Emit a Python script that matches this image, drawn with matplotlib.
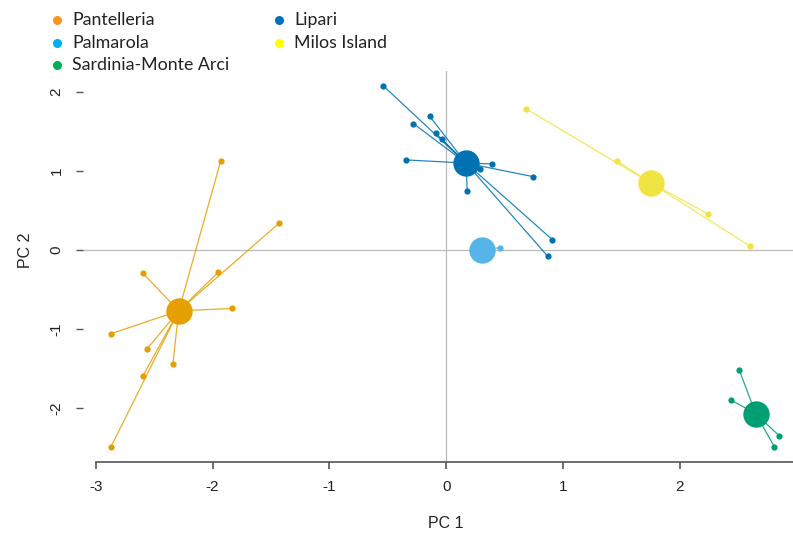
import matplotlib
matplotlib.use('Agg')
import matplotlib.pyplot as plt
from matplotlib.lines import Line2D

plt.rcParams['axes.unicode_minus'] = False

# centroids and samples of each source
groups = ['Pantelleria', 'Palmarola', 'Sardinia-Monte Arci', 'Lipari', 'Milos Island']

pant_center = (-2.29, -0.77)
pant_x = [-1.93, -1.43, -2.60, -1.95, -1.83, -2.87, -2.56, -2.34, -2.60, -2.87]
pant_y = [1.13, 0.34, -0.29, -0.28, -0.74, -1.06, -1.25, -1.44, -1.60, -2.49]

palm_center = (0.31, 0.00)
palm_x = [0.46]
palm_y = [0.03]

sard_center = (2.65, -2.07)
sard_x = [2.51, 2.44, 2.85, 2.81]
sard_y = [-1.52, -1.90, -2.35, -2.49]

lip_center = (0.17, 1.10)
lip_x = [-0.54, -0.14, -0.28, -0.09, -0.04, -0.34, 0.39, 0.29, 0.74, 0.18, 0.91, 0.87]
lip_y = [2.08, 1.69, 1.60, 1.48, 1.40, 1.14, 1.09, 1.03, 0.93, 0.75, 0.13, -0.08]

milos_center = (1.75, 0.85)
milos_x = [0.68, 1.46, 2.24, 2.60]
milos_y = [1.79, 1.13, 0.46, 0.05]

plot_colors = ['#E69F00', '#56B4E9', '#009E73', '#0072B2', '#F0E442']
legend_colors = ['#F7941D', '#00B0F0', '#00B050', '#0070C0', '#FFFF00']

data = [
    (pant_center, pant_x, pant_y),
    (palm_center, palm_x, palm_y),
    (sard_center, sard_x, sard_y),
    (lip_center, lip_x, lip_y),
    (milos_center, milos_x, milos_y),
]

W, H = 793, 534
fig = plt.figure(figsize=(W / 100, H / 100), dpi=100)
ax = fig.add_axes([83 / W, 72 / H, (800 - 83) / W, (462 - 71) / H])
ax.set_xlim(-3.11, 3.03)
ax.set_ylim(-2.684, 2.266)

ax.axhline(0, color='#bbbbbb', lw=0.9, zorder=0)
ax.axvline(0, color='#bbbbbb', lw=0.9, zorder=0)

for (c, xs, ys), col in zip(data, plot_colors):
    for x, y in zip(xs, ys):
        ax.plot([c[0], x], [c[1], y], color=col, lw=0.9, alpha=0.85, zorder=1)
    ax.plot(xs, ys, 'o', color=col, ms=4.5, mec='none', zorder=2)
    ax.plot([c[0]], [c[1]], 'o', color=col, ms=19, mec='none', zorder=3)

for s in ['top', 'right', 'left']:
    ax.spines[s].set_visible(False)
ax.spines['bottom'].set_bounds(-3, 3)
ax.spines['bottom'].set_color('#555555')
ax.spines['bottom'].set_linewidth(1.2)

ax.set_xticks([-3, -2, -1, 0, 1, 2, 3])
ax.set_yticks([-2, -1, 0, 1, 2])
ax.tick_params(axis='x', length=5, width=1.2, color='#555555', pad=8,
               labelsize=11, labelcolor='#222222')
ax.tick_params(axis='y', length=5, width=1.0, color='#555555', pad=9,
               labelsize=11, labelcolor='#222222', labelrotation=90)
for lab in ax.get_yticklabels():
    lab.set_va('center')
for lab in ax.get_xticklabels() + ax.get_yticklabels():
    lab.set_family('Liberation Sans')

fig.text(446 / W, 1 - 523 / H, 'PC 1', ha='center', va='center',
         fontsize=11.5, family='Liberation Sans', color='#222222')
fig.text(25 / W, 1 - 250 / H, 'PC 2', ha='center', va='center', rotation=90,
         fontsize=11.5, family='Liberation Sans', color='#222222')

# legend above the plot, two columns
col_x = [57, 279]
for i, (name, c) in enumerate(zip(groups, legend_colors)):
    col, row = divmod(i, 3)
    mx = col_x[col] / W
    my = 1 - (20 + 22.5 * row) / H
    fig.add_artist(Line2D([mx], [my], marker='o', ls='none', color=c, ms=6.5,
                          mec='none', transform=fig.transFigure))
    fig.text(mx + 15 / W, my, name, ha='left', va='center', fontsize=12.8,
             family='Lato', color='#222222')

fig.savefig('out.png', dpi=100)
